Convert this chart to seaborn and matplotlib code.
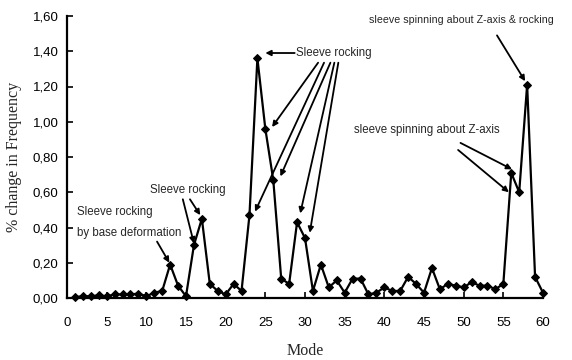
import matplotlib
matplotlib.use("Agg")
import matplotlib.pyplot as plt
import seaborn as sns
import pandas as pd

modes = list(range(1, 61))
pct_change = [0.005, 0.01, 0.01, 0.015, 0.01, 0.02, 0.02, 0.02, 0.025, 0.01,
              0.03, 0.04, 0.19, 0.07, 0.01, 0.30, 0.45, 0.08, 0.04, 0.02,
              0.08, 0.04, 0.47, 1.36, 0.96, 0.67, 0.11, 0.08, 0.43, 0.34,
              0.04, 0.19, 0.06, 0.10, 0.03, 0.11, 0.11, 0.02, 0.03, 0.06,
              0.04, 0.04, 0.12, 0.08, 0.03, 0.17, 0.05, 0.08, 0.07, 0.06,
              0.09, 0.07, 0.07, 0.05, 0.08, 0.71, 0.60, 1.21, 0.12, 0.03]
x_ticks = [0, 5, 10, 15, 20, 25, 30, 35, 40, 45, 50, 55, 60]
y_ticks = [0.0, 0.2, 0.4, 0.6, 0.8, 1.0, 1.2, 1.4, 1.6]
y_tick_labels = ["0,00", "0,20", "0,40", "0,60", "0,80", "1,00", "1,20", "1,40", "1,60"]

sns.set_style("ticks")
plt.rcParams['font.family'] = ['Liberation Sans', 'DejaVu Sans']

df = pd.DataFrame({"Mode": modes, "pct": pct_change})

fig = plt.figure(figsize=(5.72, 3.6), dpi=100)
ax = fig.add_axes([67/572, 62/360, 476/572, 282/360])
sns.lineplot(data=df, x="Mode", y="pct", ax=ax, color="black", lw=1.6,
             marker="D", markersize=4.5, markeredgecolor="black", markerfacecolor="black")

ax.set_xlim(0, 60)
ax.set_ylim(0, 1.6)
ax.set_xticks(x_ticks)
ax.set_yticks(y_ticks)
ax.set_yticklabels(y_tick_labels)
ax.tick_params(axis='both', direction='in', length=4, width=1.2, labelsize=9.5, colors='black')
ax.tick_params(axis='x', pad=14)
ax.tick_params(axis='y', pad=6)
for s in ['top', 'right']:
    ax.spines[s].set_visible(False)
for s in ['left', 'bottom']:
    ax.spines[s].set_linewidth(1.6)
    ax.spines[s].set_color('black')

ax.set_xlabel("Mode", family=['Liberation Serif'], fontsize=11.5, labelpad=10)
ax.set_ylabel("% change in Frequency", family=['Liberation Serif'], fontsize=11.5, labelpad=8)

ap = dict(arrowstyle='-|>', color='black', lw=1.3, mutation_scale=8, shrinkA=0, shrinkB=0)
fs = 8.3

ax.text(1.26, 0.43, "Sleeve rocking\nby base deformation", ha='left', va='center',
        fontsize=fs, linespacing=2.0)
ax.annotate("", xy=(12.9, 0.20), xytext=(11.35, 0.32), arrowprops=ap)

ax.text(10.5, 0.61, "Sleeve rocking", ha='left', va='center', fontsize=fs)
ax.annotate("", xy=(16.0, 0.31), xytext=(14.6, 0.56), arrowprops=ap)
ax.annotate("", xy=(16.8, 0.47), xytext=(15.5, 0.56), arrowprops=ap)

ax.text(28.9, 1.39, "Sleeve rocking", ha='left', va='center', fontsize=fs)
ax.annotate("", xy=(25.0, 1.39), xytext=(28.7, 1.39), arrowprops=ap)
for (sx, ex, ey) in [(31.65, 25.85, 0.97), (32.4, 23.7, 0.49), (33.2, 26.9, 0.69),
                     (33.7, 29.4, 0.48), (34.2, 30.6, 0.37)]:
    ax.annotate("", xy=(ex, ey), xytext=(sx, 1.335), arrowprops=ap)

ax.text(49.7, 1.58, "sleeve spinning about Z-axis & rocking", ha='center', va='center', fontsize=7.7)
ax.annotate("", xy=(57.75, 1.23), xytext=(54.2, 1.49), arrowprops=ap)

ax.text(45.4, 0.955, "sleeve spinning about Z-axis", ha='center', va='center', fontsize=fs)
ax.annotate("", xy=(56.1, 0.73), xytext=(49.6, 0.88), arrowprops=ap)
ax.annotate("", xy=(55.7, 0.60), xytext=(49.3, 0.84), arrowprops=ap)

for c in ax.spines.values():
    c.set_clip_on(False)
for ln in ax.lines:
    ln.set_clip_on(False)

fig.savefig("out.png", dpi=100)
